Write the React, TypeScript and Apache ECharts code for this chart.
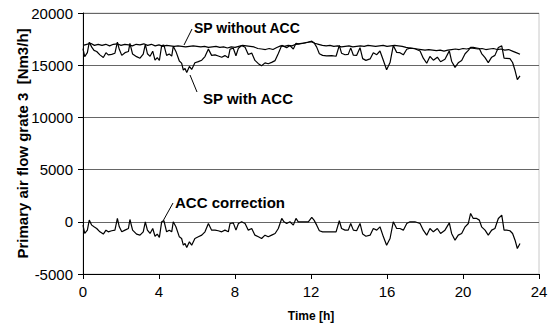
import React, { useEffect, useRef } from "react";
import * as echarts from "echarts";

// Time [h] ticks and y ticks
const xTicks = [0, 4, 8, 12, 16, 20, 24];
const yTicks = [-5000, 0, 5000, 10000, 15000, 20000];

// SP without ACC: [time h, Nm3/h]
const spWithoutAcc: [number, number][] = [
  [0.0, 16900], [0.2, 17000], [0.4, 17100], [0.6, 16900], [0.8, 17000], [1.0, 16900],
  [1.2, 17000], [1.4, 16850], [1.6, 17000], [1.8, 17050], [2.0, 16900], [2.2, 17000],
  [2.4, 16950], [2.6, 16850], [2.8, 17000], [3.0, 16950], [3.2, 17050], [3.4, 16900],
  [3.6, 17000], [3.8, 16850], [4.0, 16950], [4.2, 16800], [4.4, 16900], [4.6, 16850],
  [4.8, 16800], [5.0, 16850], [5.2, 16800], [5.4, 16750], [5.6, 16800], [5.8, 16850],
  [6.0, 16800], [6.2, 16750], [6.4, 16800], [6.6, 16700], [6.8, 16750], [7.0, 16800],
  [7.2, 16700], [7.4, 16750], [7.6, 16650], [7.8, 16750], [8.0, 16700], [8.2, 16800],
  [8.4, 16900], [8.6, 16850], [8.8, 16800], [9.0, 16750], [9.2, 16600], [9.4, 16550],
  [9.6, 16500], [9.8, 16600], [10.0, 16500], [10.2, 16700], [10.4, 16850], [10.6, 16800],
  [10.8, 16900], [11.0, 16850], [11.2, 17000], [11.4, 17050], [11.6, 17100], [11.8, 17200],
  [12.0, 17250], [12.2, 17100], [12.4, 17000], [12.6, 16900], [12.8, 16850], [13.0, 16900],
  [13.2, 16800], [13.4, 16850], [13.6, 16750], [13.8, 16800], [14.0, 16850], [14.2, 16750],
  [14.4, 16800], [14.6, 16850], [14.8, 16800], [15.0, 16900], [15.2, 16850], [15.4, 16800],
  [15.6, 16850], [15.8, 16900], [16.0, 16800], [16.2, 16850], [16.4, 16900], [16.6, 16850],
  [16.8, 16800], [17.0, 16700], [17.2, 16650], [17.4, 16600], [17.6, 16550], [17.8, 16500],
  [18.0, 16450], [18.2, 16500], [18.4, 16450], [18.6, 16400], [18.8, 16450], [19.0, 16350],
  [19.2, 16450], [19.4, 16500], [19.6, 16550], [19.8, 16500], [20.0, 16600], [20.2, 16550],
  [20.4, 16650], [20.6, 16600], [20.8, 16550], [21.0, 16600], [21.2, 16500], [21.4, 16550],
  [21.6, 16600], [21.8, 16500], [22.0, 16550], [22.2, 16450], [22.4, 16500], [22.6, 16350],
  [22.8, 16200], [23.0, 16050],
];

// SP with ACC: [time h, Nm3/h]
const spWithAcc: [number, number][] = [
  [0.0, 16580], [0.09, 15830], [0.23, 16200], [0.33, 17200], [0.46, 16730], [0.58, 16420],
  [0.72, 16310], [0.89, 15990], [1.07, 15740], [1.21, 16200], [1.33, 15990], [1.51, 16040],
  [1.68, 16150], [1.81, 17200], [1.91, 16520], [2.04, 15940], [2.21, 16200], [2.39, 16310],
  [2.47, 17100], [2.61, 16070], [2.82, 15820], [3.0, 15670], [3.17, 16070], [3.28, 17000],
  [3.39, 16100], [3.53, 15850], [3.67, 16340], [3.79, 15480], [3.91, 15720], [4.02, 15450],
  [4.14, 16870], [4.26, 16930], [4.4, 15940], [4.54, 16070], [4.67, 15870], [4.75, 16810],
  [4.89, 16320], [5.07, 15400], [5.19, 15200], [5.28, 14540], [5.37, 14680], [5.46, 14300],
  [5.6, 14880], [5.72, 14590], [5.89, 15230], [6.07, 15340], [6.25, 15480], [6.42, 15830],
  [6.6, 16540], [6.77, 15940], [6.95, 15990], [7.12, 15880], [7.3, 15760], [7.47, 15920],
  [7.65, 15720], [7.74, 16540], [7.91, 16620], [8.05, 15910], [8.18, 16630], [8.35, 16880],
  [8.53, 16720], [8.7, 16030], [8.88, 16160], [9.05, 15460], [9.23, 15150], [9.4, 14950],
  [9.58, 15220], [9.75, 15140], [9.93, 15270], [10.11, 15440], [10.28, 16120], [10.46, 16900],
  [10.58, 16800], [10.72, 16680], [10.89, 16890], [11.07, 16540], [11.21, 17100], [11.33, 17050],
  [11.51, 17100], [11.68, 17140], [11.86, 17200], [12.04, 17300], [12.16, 17150], [12.3, 16730],
  [12.44, 16090], [12.61, 15940], [12.82, 15890], [13.09, 15920], [13.32, 15860], [13.49, 16900],
  [13.61, 16140], [13.79, 16000], [13.96, 16040], [14.09, 16660], [14.23, 15960], [14.4, 15940],
  [14.58, 16680], [14.72, 15630], [14.89, 15460], [15.11, 15600], [15.28, 16190], [15.46, 16010],
  [15.63, 16360], [15.81, 15450], [15.98, 14570], [16.16, 15250], [16.33, 16880], [16.51, 16230],
  [16.68, 16200], [16.86, 15990], [17.04, 16530], [17.21, 16640], [17.47, 16580], [17.74, 16360],
  [17.91, 15670], [18.09, 15190], [18.26, 15840], [18.44, 15480], [18.65, 15770], [18.82, 15330],
  [19.05, 15570], [19.28, 16370], [19.4, 15380], [19.58, 14790], [19.75, 15230], [19.93, 15450],
  [20.11, 16100], [20.28, 16420], [20.4, 16700], [20.54, 16700], [20.72, 16650], [20.86, 16600],
  [20.98, 16120], [21.16, 15720], [21.33, 15250], [21.51, 15770], [21.68, 15940], [21.86, 16700],
  [22.04, 16850], [22.16, 15670], [22.3, 15660], [22.47, 15630], [22.61, 15260], [22.74, 14490],
  [22.86, 13610], [23.0, 13970],
];

// ACC correction: [time h, Nm3/h]
const accCorrection: [number, number][] = [
  [0.0, -320], [0.09, -1120], [0.23, -800], [0.33, 160], [0.46, -320], [0.58, -480],
  [0.72, -640], [0.89, -960], [1.07, -1180], [1.21, -800], [1.33, -960], [1.51, -860],
  [1.68, -800], [1.81, 320], [1.91, -480], [2.04, -960], [2.21, -800], [2.39, -640],
  [2.47, 220], [2.61, -800], [2.82, -1180], [3.0, -1280], [3.17, -960], [3.28, 0],
  [3.39, -800], [3.53, -1120], [3.67, -640], [3.79, -1380], [3.91, -1180], [4.02, -1500],
  [4.14, 0], [4.26, 100], [4.4, -960], [4.54, -800], [4.67, -960], [4.75, 0],
  [4.89, -480], [5.07, -1440], [5.19, -1600], [5.28, -2240], [5.37, -2080], [5.46, -2460],
  [5.6, -1920], [5.72, -2240], [5.89, -1600], [6.07, -1440], [6.25, -1280], [6.42, -960],
  [6.6, -160], [6.77, -800], [6.95, -800], [7.12, -860], [7.3, -960], [7.47, -800],
  [7.65, -960], [7.74, -160], [7.91, -100], [8.05, -800], [8.18, -160], [8.35, 0],
  [8.53, -160], [8.7, -800], [8.88, -640], [9.05, -1280], [9.23, -1440], [9.4, -1600],
  [9.58, -1280], [9.75, -1440], [9.93, -1280], [10.11, -1120], [10.28, -640], [10.46, 320],
  [10.58, 0], [10.72, -160], [10.89, 0], [11.07, -320], [11.21, 320], [11.33, 0],
  [11.51, 0], [11.68, 0], [11.86, 0], [12.04, 420], [12.16, 160], [12.3, -320],
  [12.44, -860], [12.61, -960], [12.82, -960], [13.09, -960], [13.32, -960], [13.49, 100],
  [13.61, -640], [13.79, -800], [13.96, -800], [14.09, -160], [14.23, -800], [14.4, -860],
  [14.58, -160], [14.72, -1180], [14.89, -1380], [15.11, -1280], [15.28, -640], [15.46, -800],
  [15.63, -480], [15.81, -1440], [15.98, -2240], [16.16, -1600], [16.33, 0], [16.51, -640],
  [16.68, -640], [16.86, -800], [17.04, -160], [17.21, 0], [17.47, 0], [17.74, -160],
  [17.91, -800], [18.09, -1280], [18.26, -640], [18.44, -960], [18.65, -640], [18.82, -1120],
  [19.05, -800], [19.28, -100], [19.4, -1120], [19.58, -1760], [19.75, -1280], [19.93, -1120],
  [20.11, -480], [20.28, -160], [20.4, 800], [20.54, 320], [20.72, 320], [20.86, 160],
  [20.98, -480], [21.16, -800], [21.33, -1280], [21.51, -800], [21.68, -640], [21.86, 320],
  [22.04, 640], [22.16, -800], [22.3, -800], [22.47, -860], [22.61, -1120], [22.74, -1760],
  [22.86, -2560], [23.0, -2080],
];

const FONT = "'Liberation Sans', Arial, sans-serif";

export default function App() {
  const ref = useRef<HTMLDivElement>(null);
  useEffect(() => {
    if (!ref.current) return;
    const chart = echarts.init(ref.current, undefined, { renderer: "svg" });
    const lineSeries = (name: string, data: [number, number][]) => ({
      name,
      type: "line",
      data,
      showSymbol: false,
      symbol: "none",
      lineStyle: { color: "#000", width: 1.2 },
      z: 3,
    });
    const label = (text: string, x: number, y: number, size: number) => ({
      type: "text",
      x,
      y,
      style: {
        text,
        fill: "#000",
        font: `bold ${size}px ${FONT}`,
        textVerticalAlign: "middle",
      },
      z: 10,
    });
    const leader = (x1: number, y1: number, x2: number, y2: number) => ({
      type: "line",
      shape: { x1, y1, x2, y2 },
      style: { stroke: "#000", lineWidth: 1 },
      z: 10,
    });
    chart.setOption({
      animation: false,
      backgroundColor: "#fff",
      grid: {
        left: 83,
        right: 13,
        top: 13,
        bottom: 52,
        containLabel: false,
        outerBoundsMode: "none",
        show: true,
        borderColor: "#c8c8c8",
        borderWidth: 1,
      },
      xAxis: {
        type: "value",
        min: xTicks[0],
        max: xTicks[xTicks.length - 1],
        interval: 4,
        name: "Time [h]",
        nameLocation: "middle",
        nameGap: 36,
        nameMoveOverlap: false,
        nameTextStyle: { fontFamily: FONT, fontWeight: "bold", fontSize: 12, color: "#000" },
        axisLine: { show: true, onZero: false, lineStyle: { color: "#000", width: 1 } },
        axisTick: { show: true, length: 5, lineStyle: { color: "#000" } },
        axisLabel: {
          fontFamily: FONT,
          fontSize: 15,
          color: "#000",
          margin: 10,
          formatter: (v: number) => String(v),
        },
        splitLine: { show: false },
      },
      yAxis: {
        type: "value",
        min: yTicks[0],
        max: yTicks[yTicks.length - 1],
        interval: 5000,
        name: "Primary air flow grate 3  [Nm3/h]",
        nameLocation: "middle",
        nameGap: 53,
        nameMoveOverlap: false,
        nameTextStyle: { fontFamily: FONT, fontWeight: "bold", fontSize: 15, color: "#000" },
        axisLine: { show: true, lineStyle: { color: "#000", width: 1 } },
        axisTick: { show: true, length: 5, lineStyle: { color: "#000" } },
        axisLabel: {
          fontFamily: FONT,
          fontSize: 15,
          color: "#000",
          margin: 10,
          formatter: (v: number) => String(v),
        },
        splitLine: { show: true, lineStyle: { color: "#666", width: 1 } },
      },
      series: [
        lineSeries("SP without ACC", spWithoutAcc),
        lineSeries("SP with ACC", spWithAcc),
        lineSeries("ACC correction", accCorrection),
      ],
      graphic: [
        label("SP without ACC", 194, 28, 14),
        leader(192, 29, 184, 45),
        label("SP with ACC", 203, 98, 15),
        leader(190, 75, 197, 92),
        label("ACC correction", 175, 202, 15),
        leader(173, 203, 163, 221),
      ],
    });
    return () => chart.dispose();
  }, []);
  return (
    <div
      ref={ref}
      style={{ position: "fixed", left: 0, top: 0, width: 552, height: 326, background: "#fff" }}
    />
  );
}
